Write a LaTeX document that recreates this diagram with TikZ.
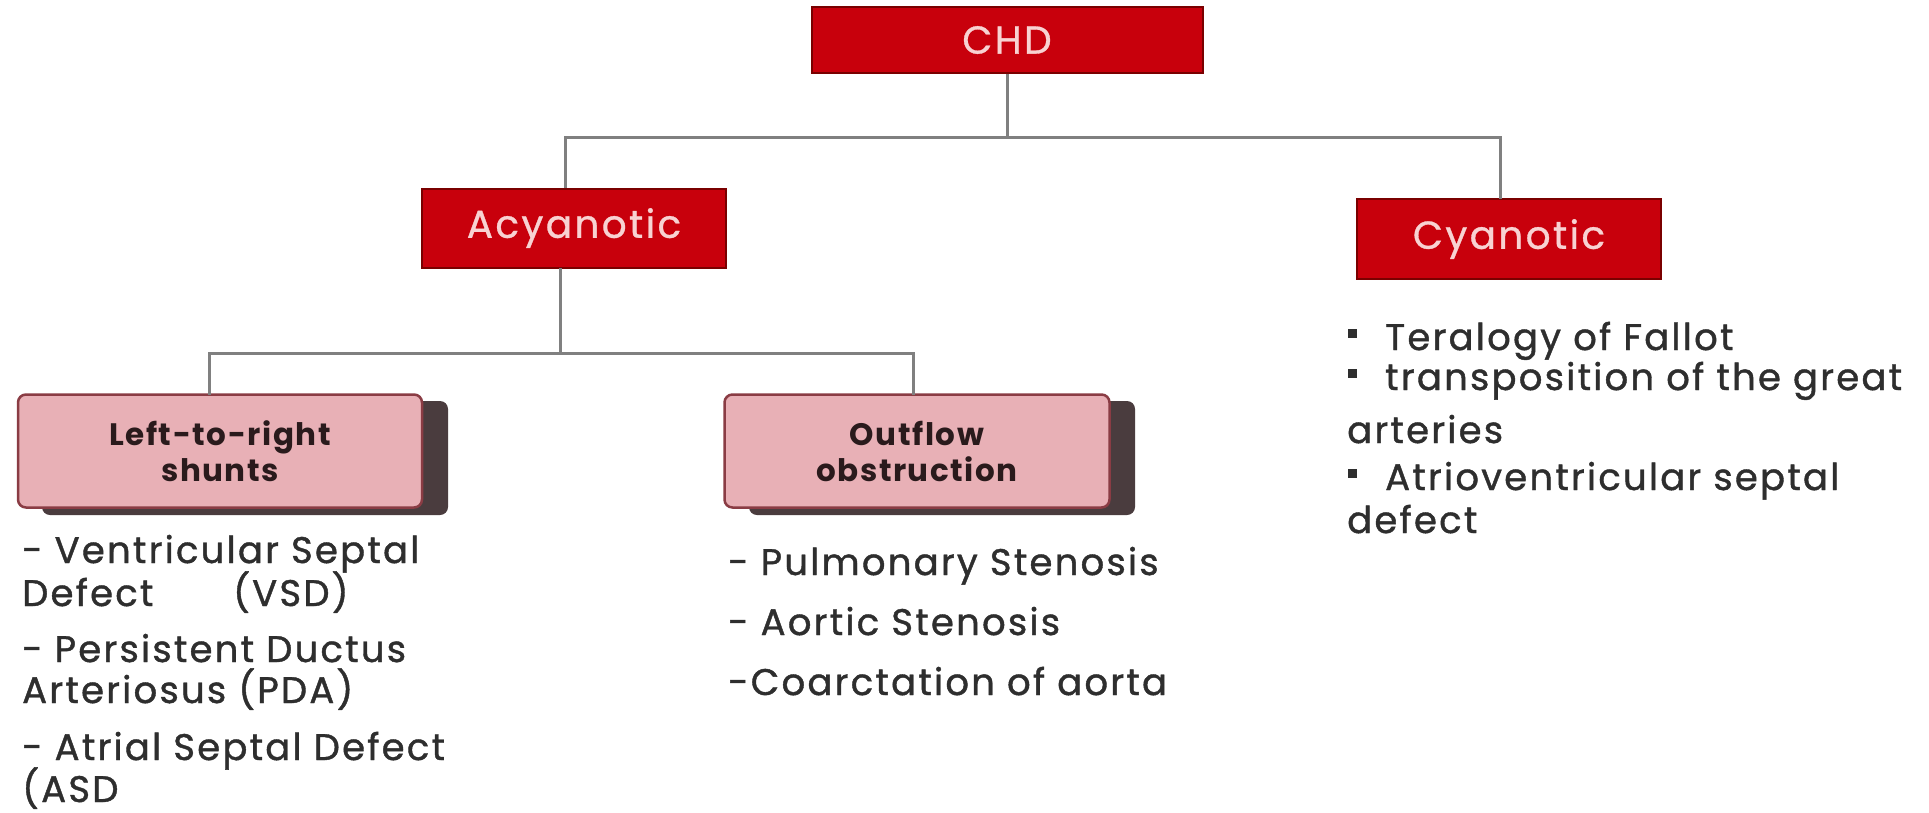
\documentclass[tikz,border=0pt]{standalone}
\usepackage{fontspec}
\setmainfont{Poppins}
\newfontfamily\listfont{Poppins}[LetterSpace=6, FakeBold=1.1]
\newfontfamily\titlefont{Poppins}[LetterSpace=6, FakeBold=0.8]
\newfontfamily\labelfont{Poppins}[LetterSpace=5, UprightFont=*-Bold]
\usetikzlibrary{positioning}

\definecolor{boxred}{HTML}{C8000C}
\definecolor{boxredline}{HTML}{7A0000}
\definecolor{boxredtext}{HTML}{F8D2D2}
\definecolor{boxpink}{HTML}{E8B0B6}
\definecolor{boxpinkline}{HTML}{8A3C44}
\definecolor{boxshadow}{HTML}{4A3C3E}
\definecolor{linkgray}{HTML}{808080}
\definecolor{listtext}{HTML}{2E2E2E}
\definecolor{labeltext}{HTML}{2A1A1C}

\tikzset{
  redbox/.style={draw=boxredline, line width=2pt, fill=boxred, text=boxredtext,
    font=\titlefont\fontsize{39}{42}\selectfont, inner sep=0pt},
  pinkbox/.style={draw=boxpinkline, line width=2.5pt, fill=boxpink, text=labeltext,
    rounded corners=8pt, align=center, inner sep=0pt,
    font=\labelfont\fontsize{31}{36}\selectfont,
    minimum height=113pt},
  pinkshadow/.style={fill=boxshadow, rounded corners=8pt},
  link/.style={draw=linkgray, line width=3pt},
  listline/.style={anchor=base west, inner sep=0pt, text=listtext,
    font=\listfont\fontsize{37}{40}\selectfont},
}

\newcommand{\sqbullet}{\rule[12pt]{9pt}{9pt}\hspace{28pt}}

\begin{document}
\begin{tikzpicture}[x=1pt, y=-1pt]
  \useasboundingbox (0,0) rectangle (1929,812);
  \fill[white] (0,0) rectangle (1929,812);

  % bus lines
  \coordinate (bustop) at (0,137);
  \coordinate (busmid) at (0,353);

  % top-level boxes
  \node[redbox, minimum width=391pt, minimum height=66pt] (chd) at (1007,40) {CHD};
  \node[redbox, minimum width=304pt, minimum height=79pt] (acy) at (574,228) {Acyanotic};
  \node[redbox, minimum width=304pt, minimum height=80pt] (cya) at (1509,239) {Cyanotic};

  % second-level boxes with drop shadows
  \fill[pinkshadow] (42,401) rectangle (448,515);
  \fill[pinkshadow] (749,401) rectangle (1135,515);
  \node[pinkbox, minimum width=404pt] (lrs) at (220,451) {Left-to-right\\shunts};
  \node[pinkbox, minimum width=385pt] (obs) at (917,451) {Outflow\\obstruction};

  % connectors
  \coordinate (acytop) at (565,188);
  \coordinate (cyatop) at (1500,199);
  \coordinate (acybot) at (560,268);
  \coordinate (lrstop) at (209,395);
  \coordinate (obstop) at (913,395);
  \draw[link] (chd.south) -- (chd.south |- bustop);
  \draw[link] (acytop) -- (acytop |- bustop) -- (cyatop |- bustop) -- (cyatop);
  \draw[link] (acybot) -- (acybot |- busmid);
  \draw[link] (lrstop) -- (lrstop |- busmid) -- (obstop |- busmid) -- (obstop);

  % left-to-right shunts list
  \node[listline] (l1) at (22,563) {- Ventricular Septal};
  \node[listline] (l2) at (22,606) {\makebox[211pt][l]{Defect}(VSD)};
  \node[listline] (l3) at (22,662) {- Persistent Ductus};
  \node[listline] (l4) at (22,703) {Arteriosus (PDA)};
  \node[listline] (l5) at (22,760) {- Atrial Septal Defect};
  \node[listline] (l6) at (22,802) {(ASD};

  % outflow obstruction list
  \node[listline] (o1) at (728,575) {- Pulmonary Stenosis};
  \node[listline] (o2) at (728,635) {- Aortic Stenosis};
  \node[listline] (o3) at (728,695) {-Coarctation of aorta};

  % cyanotic list
  \node[listline] (c1) at (1348,350) {\sqbullet Teralogy of Fallot};
  \node[listline] (c2) at (1348,390) {\sqbullet transposition of the great};
  \node[listline] (c3) at (1347,443) {arteries};
  \node[listline] (c4) at (1348,490) {\sqbullet Atrioventricular septal};
  \node[listline] (c5) at (1347,533) {defect};
\end{tikzpicture}
\end{document}
